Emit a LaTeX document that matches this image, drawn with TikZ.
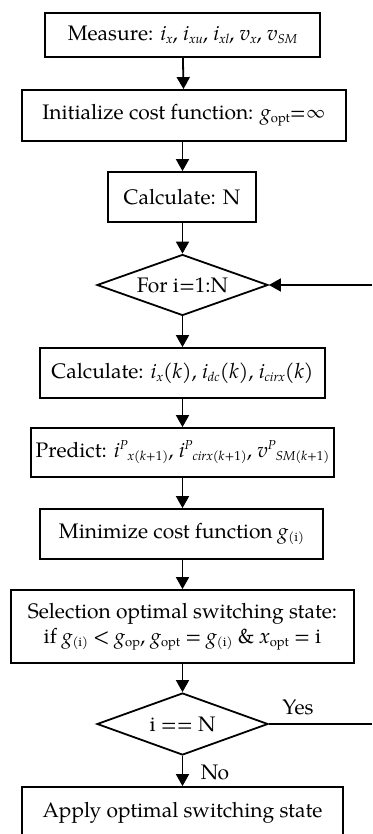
\documentclass[tikz,border=0pt]{standalone}
\usepackage{fontspec}
\setmainfont{TeX Gyre Pagella}
\usetikzlibrary{shapes.geometric,arrows.meta}
\newcommand{\sbs}[1]{\raisebox{-0.14em}{\fontsize{13}{13}\selectfont #1}}
\newcommand{\sps}[1]{\raisebox{0.38em}{\fontsize{13}{13}\selectfont #1}}
\begin{document}
\begin{tikzpicture}[x=1pt,y=-1pt,
  every node/.style={font=\fontsize{21}{25}\selectfont},
  stepbox/.style={draw,line width=1.8pt,inner sep=0pt,align=center},
  dec/.style={draw,diamond,line width=1.8pt,inner sep=0pt,aspect=2.8,minimum width=171pt,minimum height=61pt},
  arr/.style={line width=1.8pt,-{Triangle[length=12pt,width=13pt]}},
  ln/.style={line width=1.8pt}]
\useasboundingbox (0,0) rectangle (372,834);
\node[stepbox,minimum width=275pt,minimum height=44pt] (m) at (182.5,35)
  {Measure: \textit{i}\sbs{\textit{x}}, \textit{i}\sbs{\textit{xu}}, \textit{i}\sbs{\textit{xl}}, \textit{v}\sbs{\textit{x}}, \textit{v}\sbs{\textit{SM}}};
\node[stepbox,minimum width=324pt,minimum height=51pt] (init) at (184,115.5)
  {Initialize cost function: \textit{g}\sbs{opt}=∞};
\node[stepbox,minimum width=148pt,minimum height=50pt] (cn) at (182,197) {Calculate: N};
\node[dec] (for) at (182.5,285) {For i=1:N};
\node[stepbox,minimum width=285pt,minimum height=50pt] (calc) at (182.5,373)
  {Calculate: \textit{i}\sbs{\textit{x}}(\textit{k}), \textit{i}\sbs{\textit{dc}}(\textit{k}), \textit{i}\sbs{\textit{cirx}}(\textit{k})};
\node[stepbox,minimum width=303pt,minimum height=49pt] (pred) at (182.5,452.5)
  {Predict: \textit{i}\sps{\textit{P}}\sbs{\textit{x}(\textit{k}+1)}, \textit{i}\sps{\textit{P}}\sbs{\textit{cirx}(\textit{k}+1)}, \textit{v}\sps{\textit{P}}\sbs{\textit{SM}(\textit{k}+1)}};
\node[stepbox,minimum width=283pt,minimum height=50pt] (min) at (181.5,534)
  {Minimize cost function \textit{g}\sbs{(i)}};
\node[stepbox,minimum width=343pt,minimum height=73pt] (sel) at (182.5,626.5)
  {Selection optimal switching state:\\ if \textit{g}\sbs{(i)} < \textit{g}\sbs{op}, \textit{g}\sbs{opt} = \textit{g}\sbs{(i)} \& \textit{x}\sbs{opt} = i};
\node[dec,minimum height=62pt] (chk) at (182.5,724) {i == N};
\node[stepbox,minimum width=321pt,minimum height=52pt] (app) at (182.5,813) {Apply optimal switching state};
\coordinate (yesend) at (372,724);
\coordinate (loopin) at (372,285);
\draw[arr] (m) -- (init);
\draw[arr] (init.south -| m) -- (cn.north -| m);
\draw[arr] (cn.south -| m) -- (for);
\draw[arr] (for) -- (calc);
\draw[arr] (calc) -- (pred);
\draw[arr] (pred.south -| m) -- (min.north -| m);
\draw[arr] (min.south -| m) -- (sel.north -| m);
\draw[arr] (sel) -- (chk);
\draw[arr] (chk) -- (app);
\node (no) at (215,772) {No};
\draw[ln] (chk.east) -- (yesend);
\node (yes) at (298,707) {Yes};
\draw[arr] (loopin) -- (for.east);
\end{tikzpicture}
\end{document}
